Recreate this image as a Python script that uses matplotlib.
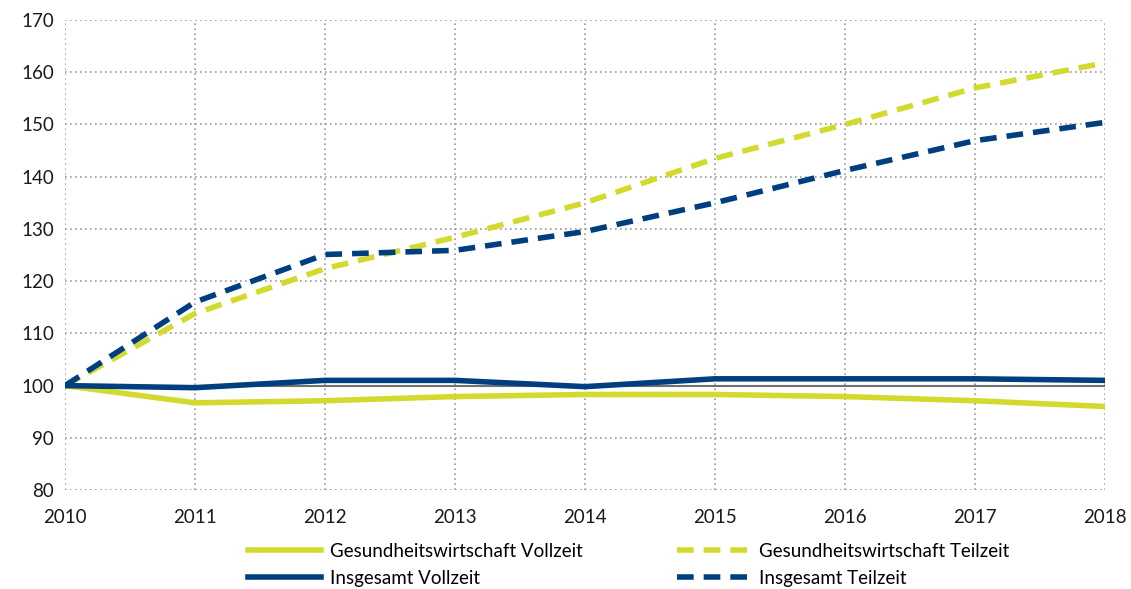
import matplotlib
matplotlib.use("Agg")
import matplotlib.pyplot as plt

years = [2010, 2011, 2012, 2013, 2014, 2015, 2016, 2017, 2018]
gw_vollzeit = [100, 96.7, 97.1, 97.9, 98.3, 98.3, 97.9, 97.1, 96.0]
ins_vollzeit = [100, 99.6, 101.0, 101.0, 99.8, 101.3, 101.3, 101.3, 101.0]
gw_teilzeit = [100, 113.8, 122.4, 128.4, 135.0, 143.5, 150.0, 157.0, 161.8]
ins_teilzeit = [100, 116.0, 125.1, 125.9, 129.5, 135.0, 141.2, 146.9, 150.4]
labels = ["Gesundheitswirtschaft Vollzeit", "Insgesamt Vollzeit",
          "Gesundheitswirtschaft Teilzeit", "Insgesamt Teilzeit"]
yticks = [80, 90, 100, 110, 120, 130, 140, 150, 160, 170]

yellow = "#d3da2e"
navy = "#003f7f"

plt.rcParams['font.family'] = ['Lato', 'DejaVu Sans']
fig = plt.figure(figsize=(11.31, 5.89), dpi=100)
ax = fig.add_axes([0.0575, 0.168, 0.9195, 0.798])

ax.axhline(100, color="#707070", lw=1.5, zorder=1)
lw = 4.0
ax.plot(years, gw_vollzeit, color=yellow, lw=lw, label=labels[0], zorder=3)
ax.plot(years, ins_vollzeit, color=navy, lw=lw, label=labels[1], zorder=4)
ax.plot(years, gw_teilzeit, color=yellow, lw=lw, label=labels[2], zorder=3,
        dashes=(3.0, 1.8))
ax.plot(years, ins_teilzeit, color=navy, lw=lw, label=labels[3], zorder=4,
        dashes=(3.0, 1.8))

ax.set_xlim(2010, 2018)
ax.set_ylim(80, 170)
ax.set_xticks(years)
ax.set_yticks(yticks)
ax.grid(True, color="#999999", linestyle=(0, (1, 2)), lw=1.2)
ax.set_axisbelow(True)
for s in ax.spines.values():
    s.set_visible(False)
ax.tick_params(length=0, labelsize=13.5, colors="#1a1a1a")
ax.tick_params(axis='x', pad=14)
ax.tick_params(axis='y', pad=8)

h, l = ax.get_legend_handles_labels()
leg = fig.legend(h, l, ncol=2,
                 loc="center", bbox_to_anchor=(0.556, 0.041), frameon=False,
                 fontsize=13.5, handlelength=3.9, columnspacing=5.0,
                 handletextpad=0.5, labelspacing=0.55)

fig.savefig("out.png", dpi=100)
